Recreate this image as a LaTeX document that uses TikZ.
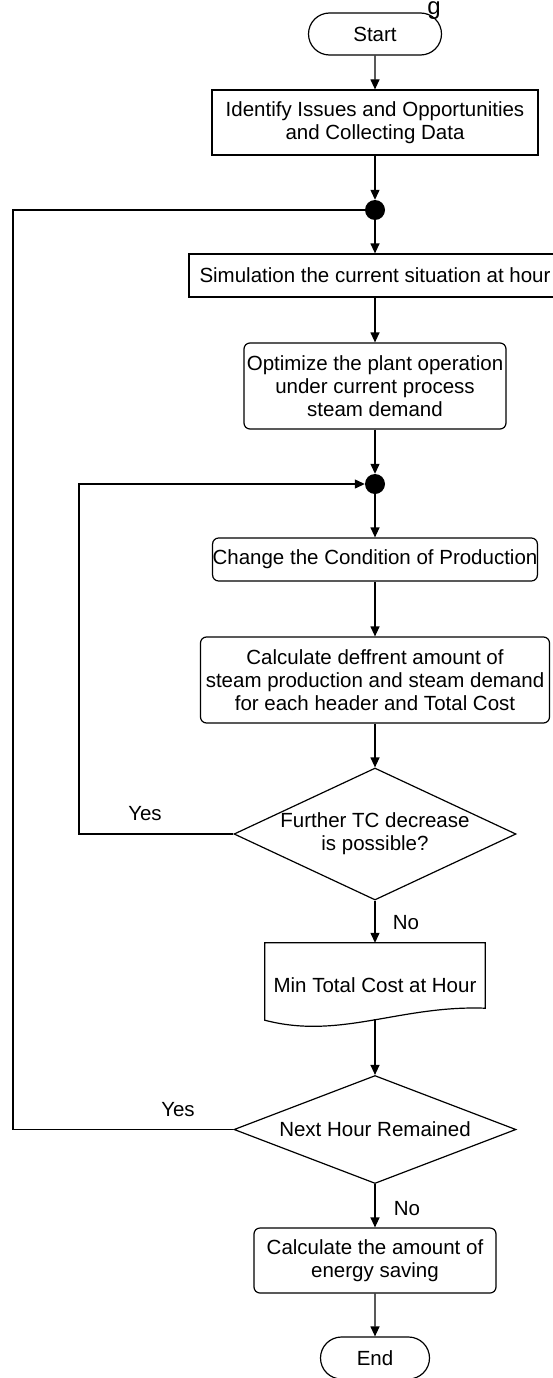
\documentclass[tikz,border=0pt]{standalone}
\usepackage{fontspec}
\setmainfont{Liberation Sans}
\usepackage{tikz}
\usetikzlibrary{%
	arrows.meta,%
	shapes.geometric,%
	shapes.misc%
}

\begin{document}
\begin{tikzpicture}[x=1pt,y=-1pt,
	font=\fontsize{20.5}{23.3}\selectfont,
	line/.style={line width=1.2pt},
	flow/.style={line width=1.2pt,-{Triangle[length=10pt,width=9pt]}},
	box/.style={draw,line width=1.2pt,align=center,inner sep=0pt},
	rbox/.style={box,rounded corners=6pt},
	terminal/.style={draw,line width=1.2pt,rounded rectangle,inner sep=0pt,minimum height=42pt},
	decision/.style={draw,line width=1.2pt,diamond,align=center,inner sep=0pt},
	junction/.style={circle,fill=black,inner sep=0pt,minimum size=20pt},
	lbl/.style={inner sep=0pt}]
\clip (0,0) rectangle (553,1378);

% Caption remnant
\node[font=\fontsize{24}{24}\selectfont,anchor=base,inner sep=0pt] (figlabel) at (434,15) {g};

% Nodes
\node[terminal,minimum width=133pt] (start) at (375,34) {Start};
\node[box,minimum width=326pt,minimum height=65pt] (identify) at (375,122.5) {Identify Issues and Opportunities\\and Collecting Data};
\node[junction] (dot1) at (375,210) {};
\node[box,minimum width=372pt,minimum height=43pt] (simulate) at (375,275.5) {Simulation the current situation at hour};
\node[rbox,minimum width=262pt,minimum height=86pt] (optimize) at (375,386) {Optimize the plant operation\\under current process\\steam demand};
\node[junction] (dot2) at (375,484) {};
\node[rbox,minimum width=323pt,minimum height=43pt] (change) at (375,559.5) {Change the Condition of Production};
\node[rbox,minimum width=349pt,minimum height=86pt] (calcdiff) at (375,680) {Calculate deffrent amount of\\steam production and steam demand\\for each header and Total Cost};
\node[decision,aspect=2.136,minimum width=282pt,minimum height=132pt] (tcdec) at (375,834) {Further TC decrease\\is possible?};
\node[inner sep=0pt,minimum width=220pt,minimum height=84pt] (mincost) at (375,985) {Min Total Cost at Hour};
\node[decision,aspect=2.61,minimum width=282pt,minimum height=108pt] (nexthour) at (375,1129.5) {Next Hour Remained};
\node[rbox,minimum width=242pt,minimum height=65pt] (saving) at (375,1260.5) {Calculate the amount of\\energy saving};
\node[terminal,minimum width=109pt] (end) at (375,1358) {End};

% Document outline
\draw[line] (mincost.north west) -- (mincost.north east) -- ([yshift=19pt]mincost.south east)
	.. controls (400,1005) and (340,1040) .. ([yshift=7pt]mincost.south west) -- cycle;
\coordinate (mincostb) at ([yshift=8pt]mincost.south);

% Main line
\draw[flow] (start) -- (identify);
\draw[flow] (identify) -- (dot1);
\draw[flow] (dot1) -- (simulate);
\draw[flow] (simulate) -- (optimize);
\draw[flow] (optimize) -- (dot2);
\draw[flow] (dot2) -- (change);
\draw[flow] (change) -- (calcdiff);
\draw[flow] (calcdiff) -- (tcdec);
\draw[flow] (tcdec) -- (mincost);
\draw[flow] (mincostb) -- (nexthour);
\draw[flow] (nexthour) -- (saving);
\draw[flow] (saving) -- (end);

% Loops
\coordinate (innerx) at (79,0);
\coordinate (outerx) at (13,0);
\draw[flow] (tcdec.west) -- (tcdec.west -| innerx) |- (dot2);
\draw[line] (nexthour.west) -- (nexthour.west -| outerx) |- (dot1);

% Labels
\node[lbl] (yes1) at (145,814) {Yes};
\node[lbl] (no1) at (406,923) {No};
\node[lbl] (yes2) at (178,1110) {Yes};
\node[lbl] (no2) at (407,1209) {No};
\end{tikzpicture}
\end{document}
